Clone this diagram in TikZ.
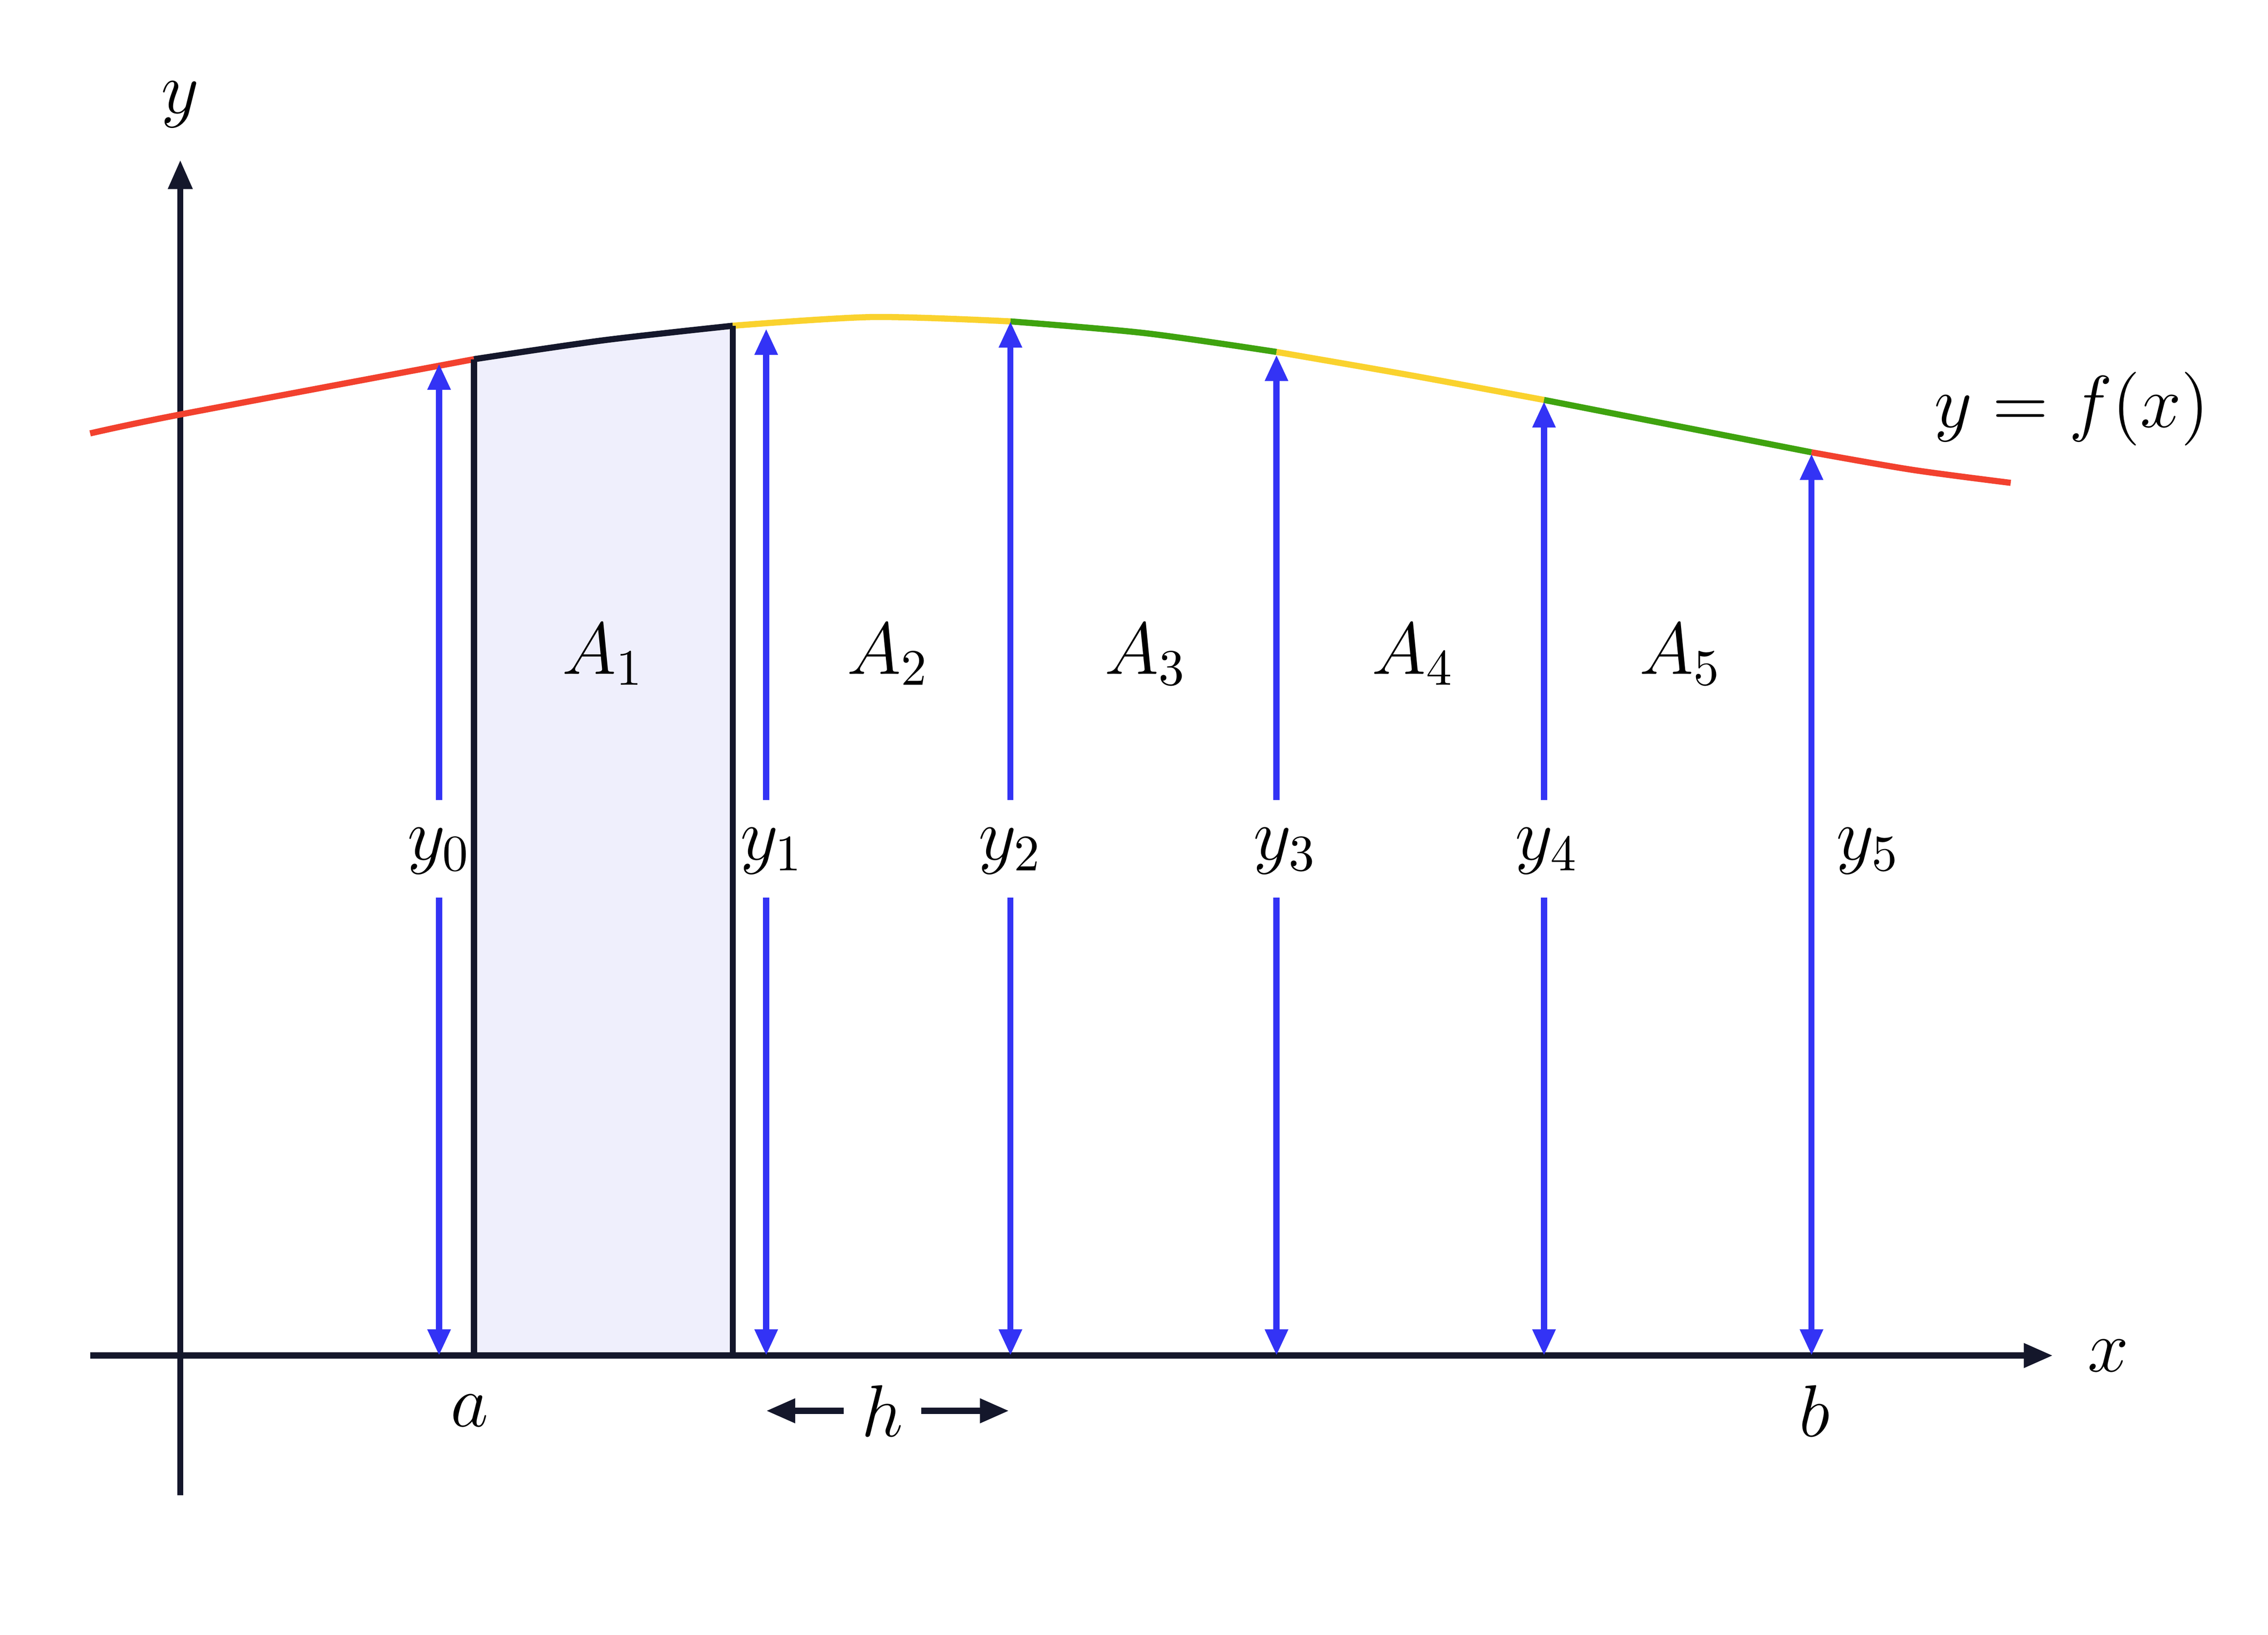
\documentclass[tikz,border=0pt]{standalone}
\usepackage{tikz, xcolor}
\usetikzlibrary{arrows.meta, calc}

\definecolor{curvered}{HTML}{F2412E}
\definecolor{curveyellow}{HTML}{FAD22E}
\definecolor{curvegreen}{HTML}{3FA30F}
\definecolor{ordblue}{HTML}{3333F5}
\definecolor{axisink}{HTML}{14172B}
\definecolor{stripfill}{HTML}{EFEFFC}

\begin{document}
\begin{tikzpicture}[
  axis/.style={
    % The line:
    line width=1.2pt,
    draw=axisink,
    % The tip:
    -{Triangle[length=2mm, width=1.6mm]}
  },
  ordinate/.style={
    line width=1.2pt,
    draw=ordblue,
    -{Triangle[length=1.8mm, width=1.5mm]}
  },
  curvepart/.style={
    line width=1.2pt
  },
  font=\Large
  ]
  \useasboundingbox (0,0) rectangle (15.6,11.24);

  % shaded strip
  \fill [stripfill] (3.26,1.92) -- (3.26,8.77) .. controls (3.85,8.87) and (4.45,8.95) .. (5.04,9.00) -- (5.04,1.92) -- cycle;

  % axes
  \coordinate (xstart) at (0.62,1.92);
  \coordinate (xend) at (14.12,1.92);
  \coordinate (ystart) at (1.24,0.96);
  \coordinate (yend) at (1.24,10.14);
  \draw [axis] (xstart) -- (xend) node (xlabel) [right=1mm] {$x$};
  \draw [axis] (ystart) -- (yend);
  \node (ylabel) at (1.24,10.52) {$y$};

  % the curve, one colour per strip
  \draw [curvepart, curvered] plot [smooth] coordinates {(0.62,8.26) (1.24,8.39) (3.26,8.77)};
  \draw [curvepart, axisink] plot [smooth] coordinates {(3.26,8.77) (4.15,8.90) (5.04,9.00)};
  \draw [curvepart, curveyellow] plot [smooth] coordinates {(5.04,9.00) (6.00,9.06) (6.95,9.03)};
  \draw [curvepart, curvegreen] plot [smooth] coordinates {(6.95,9.03) (7.87,8.95) (8.78,8.82)};
  \draw [curvepart, curveyellow] plot [smooth] coordinates {(8.78,8.82) (9.70,8.66) (10.62,8.49)};
  \draw [curvepart, curvegreen] plot [smooth] coordinates {(10.62,8.49) (11.54,8.31) (12.46,8.13)};
  \draw [curvepart, curvered] plot [smooth] coordinates {(12.46,8.13) (13.15,8.01) (13.83,7.92)};
  \node (flabel) at (14.25,8.43) {$y=f(x)$};

  % strip edges
  \draw [line width=1.2pt, axisink] (3.26,1.92) -- (3.26,8.77);
  \draw [line width=1.2pt, axisink] (5.04,1.92) -- (5.04,9.00);

  % ordinates, split round their labels
  \foreach \i/\x/\lx/\top in {0/3.02/3.02/8.74, 1/5.27/5.31/8.98, 2/6.95/6.95/9.03, 3/8.78/8.84/8.80, 4/10.62/10.64/8.48}{
    \node (y\i) at (\lx,5.39) {$y_\i$};
    \draw [ordinate] (\x,5.74) -- (\x,\top);
    \draw [ordinate] (\x,5.07) -- (\x,1.92);
  }
  \draw [ordinate, {Triangle[length=1.8mm, width=1.5mm]}-{Triangle[length=1.8mm, width=1.5mm]}] (12.46,1.92) -- (12.46,8.12);
  \node (y5) at (12.85,5.39) {$y_5$};

  % areas
  \foreach \i/\x in {1/4.15, 2/6.11, 3/7.88, 4/9.72, 5/11.56}{
    \node (A\i) at (\x,6.74) {$A_\i$};
  }

  % limits and step
  \node (a) at (3.23,1.54) {$a$};
  \node (b) at (12.48,1.54) {$b$};
  \node (h) at (6.07,1.54) {$h$};
  \coordinate (hleft) at (5.27,1.54);
  \coordinate (hright) at (6.94,1.54);
  \draw [axis] (h.west) -- (hleft);
  \draw [axis] (h.east) -- (hright);

\end{tikzpicture}
\end{document}
